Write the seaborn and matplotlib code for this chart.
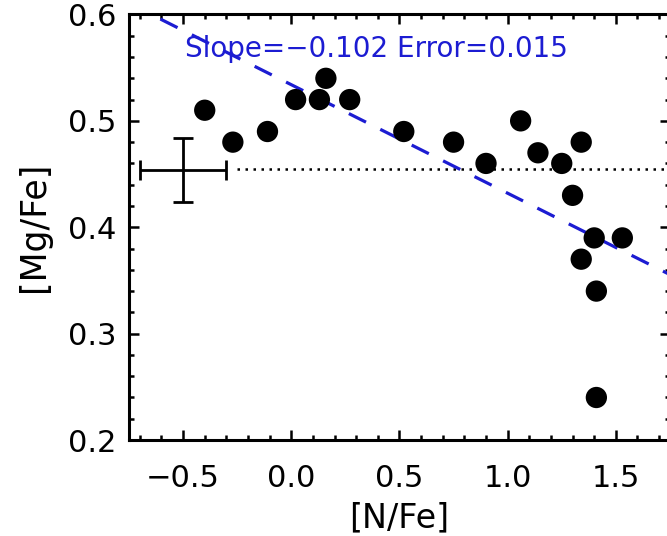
import numpy as np
import matplotlib
matplotlib.use("Agg")
import matplotlib.pyplot as plt
from matplotlib.ticker import MultipleLocator
import seaborn as sns

# [N/Fe] and [Mg/Fe]
n_fe = [-0.40, -0.27, -0.11, 0.02, 0.13, 0.16, 0.27, 0.52, 0.75, 0.90,
        1.06, 1.14, 1.25, 1.34, 1.30, 1.40, 1.53, 1.34, 1.41, 1.41]
mg_fe = [0.51, 0.48, 0.49, 0.52, 0.52, 0.54, 0.52, 0.49, 0.48, 0.46,
         0.50, 0.47, 0.46, 0.48, 0.43, 0.39, 0.39, 0.37, 0.34, 0.24]

# typical error bar
err_x, err_y = -0.5, 0.454
err_dx, err_dy = 0.2, 0.03

# mean level and linear fit
mean_mg = 0.4545
fit_slope = -0.102
fit_err = 0.015
fit_intercept = 0.534

xlim = (-0.75, 1.75)
ylim = (0.2, 0.6)

sns.set_style("ticks")
plt.rcParams['font.family'] = ['DejaVu Sans']
plt.rcParams.update({'text.color': 'black', 'axes.labelcolor': 'black',
                     'xtick.color': 'black', 'ytick.color': 'black',
                     'axes.edgecolor': 'black'})

fig = plt.figure(figsize=(6.67, 5.36), dpi=100)
ax = fig.add_axes([0.1934, 0.179, 0.811, 0.794])

sns.scatterplot(x=n_fe, y=mg_fe, ax=ax, color='black', s=235,
                edgecolor='none', zorder=3)

ax.errorbar(err_x, err_y, xerr=err_dx, yerr=err_dy, color='black',
            lw=2.0, capsize=7, capthick=2.0)

ax.plot([err_x + err_dx + 0.05, xlim[1]], [mean_mg, mean_mg], color='black',
        lw=1.8, dashes=(1, 2.2))

fx = np.array(xlim)
ax.plot(fx, fit_intercept + fit_slope * fx, color='#1c1cd2', lw=2.3,
        dashes=(6, 5))

ax.text(-0.49, 0.560,
        f"Slope={fit_slope:.3f} Error={fit_err:.3f}".replace('-', '\u2212'),
        color='#1c1cd2', fontsize=20, ha='left', va='baseline')

ax.set_xlim(*xlim)
ax.set_ylim(*ylim)
ax.xaxis.set_major_locator(MultipleLocator(0.5))
ax.xaxis.set_minor_locator(MultipleLocator(0.1))
ax.yaxis.set_major_locator(MultipleLocator(0.1))
ax.yaxis.set_minor_locator(MultipleLocator(0.02))

ax.tick_params(which='both', direction='in', top=True, right=True,
               width=1.8, labelsize=22)
ax.tick_params(which='major', length=7)
ax.tick_params(which='minor', length=3.5)
ax.tick_params(axis='x', pad=17)
ax.tick_params(axis='y', pad=9)
for sp in ax.spines.values():
    sp.set_linewidth(2.2)

ax.set_xlabel('[N/Fe]', fontsize=24, labelpad=6)
ax.set_ylabel('[Mg/Fe]', fontsize=25, labelpad=12)

fig.savefig('out.png', dpi=100)
